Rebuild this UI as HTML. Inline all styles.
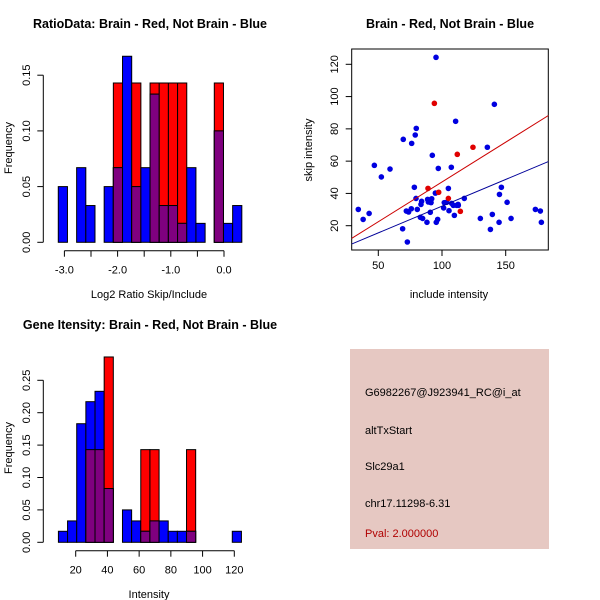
<!DOCTYPE html>
<html><head><meta charset="utf-8"><style>
body{margin:0;background:#fff;}
svg{display:block;font-family:"Liberation Sans",sans-serif;}
</style></head><body>
<svg id="c" width="600" height="600" xmlns="http://www.w3.org/2000/svg">
<text x="150" y="28" text-anchor="middle" font-size="12.5" font-weight="bold">RatioData: Brain - Red, Not Brain - Blue</text>
<text x="450" y="28" text-anchor="middle" font-size="12.5" font-weight="bold">Brain - Red, Not Brain - Blue</text>
<text x="150" y="329" text-anchor="middle" font-size="12.5" font-weight="bold">Gene Itensity: Brain - Red, Not Brain - Blue</text>
<rect x="350" y="349" width="199" height="200" fill="#e6c8c2"/>
<text x="365" y="396" font-size="11">G6982267@J923941_RC@i_at</text>
<text x="365" y="434" font-size="11">altTxStart</text>
<text x="365" y="470" font-size="11">Slc29a1</text>
<text x="365" y="507" font-size="11">chr17.11298-6.31</text>
<text x="365" y="537" font-size="11" fill="#b00000">Pval: 2.000000</text>
</svg>
<script>
const NS="http://www.w3.org/2000/svg";
const svg=document.getElementById('c');
// Ratio histogram data
const ratioStart=-3.115, ratioWidth=0.1725;
const ratioBlue=[0.05,0,0.067,0.033,0,0.05,0.067,0.167,0.05,0.067,0.133,0.033,0.033,0.017,0.067,0.017,0,0.1,0.017,0.033];
const ratioRed=[0,0,0,0,0,0,0.143,0,0.143,0,0.143,0.143,0.143,0.143,0,0,0,0.143,0,0];
const ratioXTicks=[-3.0,-2.5,-2.0,-1.5,-1.0,-0.5,0.0];
const ratioXLabels=["-3.0","-2.0","-1.0","0.0"];
const ratioYTicks=[0,0.05,0.10,0.15];
// Intensity histogram data
const intStart=9.1, intWidth=5.77;
const intBlue=[0.017,0.033,0.183,0.217,0.233,0.083,0,0.05,0.033,0.017,0.033,0.033,0.017,0.017,0.017,0,0,0,0,0.017];
const intRed=[0,0,0,0.143,0.143,0.286,0,0,0,0.143,0.143,0,0,0,0.143,0,0,0,0,0];
const intXTicks=[20,40,60,80,100,120];
const intYTicks=[0,0.05,0.10,0.15,0.20,0.25];
// Scatter data
const blueX=[34.3,38.1,42.8,46.9,52.4,59.2,69.1,69.6,72,72.8,73.8,76.2,75.9,78.3,79,79.6,79.8,80.6,83,83.5,84,84.8,88.2,88.7,89.3,90.8,91.4,91.9,92.4,94.8,95.3,95.5,96.6,97.1,101.3,101.8,103.7,105,105.5,107.3,107.6,108.9,109.7,110.7,111.5,112.6,112.8,117.5,130.1,135.6,138,139.5,141.1,144.8,145.1,146.6,151.1,154.2,173.3,177.2,178];
const blueY=[30.1,23.9,27.6,57.4,50.2,55.1,18.1,73.5,29.1,9.9,28.5,71,30.5,43.8,76.2,36.9,80.3,30.1,25.2,33.2,35.1,24.5,22.1,36.3,34.7,28.3,34.3,36.7,63.6,40.2,124.3,22.1,23.9,55.5,31,34.3,34.5,43.1,29.3,56.2,33.8,32.6,26.4,84.7,32.6,33.2,32.6,36.9,24.5,68.6,17.7,27,95.2,22.1,39.4,43.8,34.5,24.5,30.1,29.1,22.1];
const redX=[94,89,97.4,105,112,124.3,114.4];
const redY=[95.8,43.1,40.7,36.9,64.2,68.6,28.9];
const redFit=[-2.2,0.493];
const blueFit=[-1.0,0.331];
const scXTicks=[50,100,150];
const scYTicks=[20,40,60,80,100,120];

function el(tag,attrs,name,txt){const e=document.createElementNS(NS,tag);for(const k in attrs)e.setAttribute(k,attrs[k]);


if(txt!==undefined)e.textContent=txt;svg.appendChild(e);return e;}

function hist(o){
  const sx=v=>o.x0+(v-o.xv0)*o.kx, sy=v=>o.y0-v*o.ky;
  const n=o.blue.length;
  for(let i=0;i<n;i++){
    const a=sx(o.start+i*o.w), b=sx(o.start+(i+1)*o.w);
    const r=o.red[i], bl=o.blue[i], m=Math.min(r,bl);
    if(r>0) el('rect',{x:a,y:sy(r),width:b-a,height:sy(0)-sy(r),fill:'#ff0000',stroke:'#000','stroke-width':1},o.p+'-red-bar');
    if(bl>0) el('rect',{x:a,y:sy(bl),width:b-a,height:sy(0)-sy(bl),fill:'#0000ff',stroke:'#000','stroke-width':1},o.p+'-blue-bar');
    if(m>0) el('rect',{x:a,y:sy(m),width:b-a,height:sy(0)-sy(m),fill:'#7f007f',stroke:'#000','stroke-width':1},o.p+'-overlap-bar');
  }
  const ay=o.y0+8.4;
  el('line',{x1:sx(o.xt[0]),y1:ay,x2:sx(o.xt[o.xt.length-1]),y2:ay,stroke:'#000'},o.p+'-x-axis');
  o.xt.forEach(t=>{el('line',{x1:sx(t),y1:ay,x2:sx(t),y2:ay+6,stroke:'#000'},o.p+'-x-tick');});
  o.xl.forEach(t=>{el('text',{x:sx(parseFloat(t)),y:ay+23,'text-anchor':'middle','font-size':11},o.p+'-x-tick-label',t);});
  const ax=43.3;
  el('line',{x1:ax,y1:sy(o.yt[0]),x2:ax,y2:sy(o.yt[o.yt.length-1]),stroke:'#000'},o.p+'-y-axis');
  o.yt.forEach(t=>{el('line',{x1:ax,y1:sy(t),x2:ax-6,y2:sy(t),stroke:'#000'},o.p+'-y-tick');
    el('text',{x:30,y:sy(t),'text-anchor':'middle','font-size':11,transform:`rotate(-90 30 ${sy(t)})`},o.p+'-y-tick-label',t.toFixed(2));});
  el('text',{x:12,y:o.ylabY,'text-anchor':'middle','font-size':11,transform:`rotate(-90 12 ${o.ylabY})`},o.p+'-y-axis-title','Frequency');
  el('text',{x:o.xlabX,y:o.xlabY,'text-anchor':'middle','font-size':11},o.p+'-x-axis-title',o.xlab);
}
hist({p:'ratio',x0:224,xv0:0,kx:53.2,y0:242.3,ky:55.7/0.05,start:ratioStart,w:ratioWidth,blue:ratioBlue,red:ratioRed,xt:ratioXTicks,xl:ratioXLabels,yt:ratioYTicks,ylabY:148,xlab:'Log2 Ratio Skip/Include',xlabX:149,xlabY:298});
hist({p:'intensity',x0:75.7,xv0:20,kx:1.586,y0:542.3,ky:32.4/0.05,start:intStart,w:intWidth,blue:intBlue,red:intRed,xt:intXTicks,xl:intXTicks.map(String),yt:intYTicks,ylabY:448,xlab:'Intensity',xlabX:149,xlabY:598});

// scatter
const L=351.7,R=548.3,T=49,B=250;
const px=v=>378.3+(v-50)*1.274, py=v=>225.7-(v-20)*1.614;
el('rect',{x:L,y:T,width:R-L,height:B-T,fill:'none',stroke:'#000'},'scatter-plot-box');
const cp=document.createElementNS(NS,'clipPath');cp.setAttribute('id','clip');
const cr=document.createElementNS(NS,'rect');cr.setAttribute('x',L);cr.setAttribute('y',T);cr.setAttribute('width',R-L);cr.setAttribute('height',B-T);cp.appendChild(cr);svg.appendChild(cp);
for(let i=0;i<blueX.length;i++) el('circle',{cx:px(blueX[i]),cy:py(blueY[i]),r:2.8,fill:'#0000e0'},'blue-point');
for(let i=0;i<redX.length;i++) el('circle',{cx:px(redX[i]),cy:py(redY[i]),r:2.8,fill:'#e00000'},'red-point');
const xa=29,xb=184;
el('line',{x1:px(xa),y1:py(redFit[0]+redFit[1]*xa),x2:px(xb),y2:py(redFit[0]+redFit[1]*xb),stroke:'#cc0000','clip-path':'url(#clip)'},'red-fit-line');
el('line',{x1:px(xa),y1:py(blueFit[0]+blueFit[1]*xa),x2:px(xb),y2:py(blueFit[0]+blueFit[1]*xb),stroke:'#000099','clip-path':'url(#clip)'},'blue-fit-line');
scXTicks.forEach(t=>{el('line',{x1:px(t),y1:B,x2:px(t),y2:B+6,stroke:'#000'},'scatter-x-tick');
  el('text',{x:px(t),y:B+19,'text-anchor':'middle','font-size':11},'scatter-x-tick-label',String(t));});
scYTicks.forEach(t=>{el('line',{x1:L,y1:py(t),x2:L-6,y2:py(t),stroke:'#000'},'scatter-y-tick');
  el('text',{x:338,y:py(t),'text-anchor':'middle','font-size':11,transform:`rotate(-90 338 ${py(t)})`},'scatter-y-tick-label',String(t));});
el('text',{x:449,y:298,'text-anchor':'middle','font-size':11},'scatter-x-axis-title','include intensity');
el('text',{x:312,y:150,'text-anchor':'middle','font-size':11,transform:'rotate(-90 312 150)'},'scatter-y-axis-title','skip intensity');
</script>
</body></html>
